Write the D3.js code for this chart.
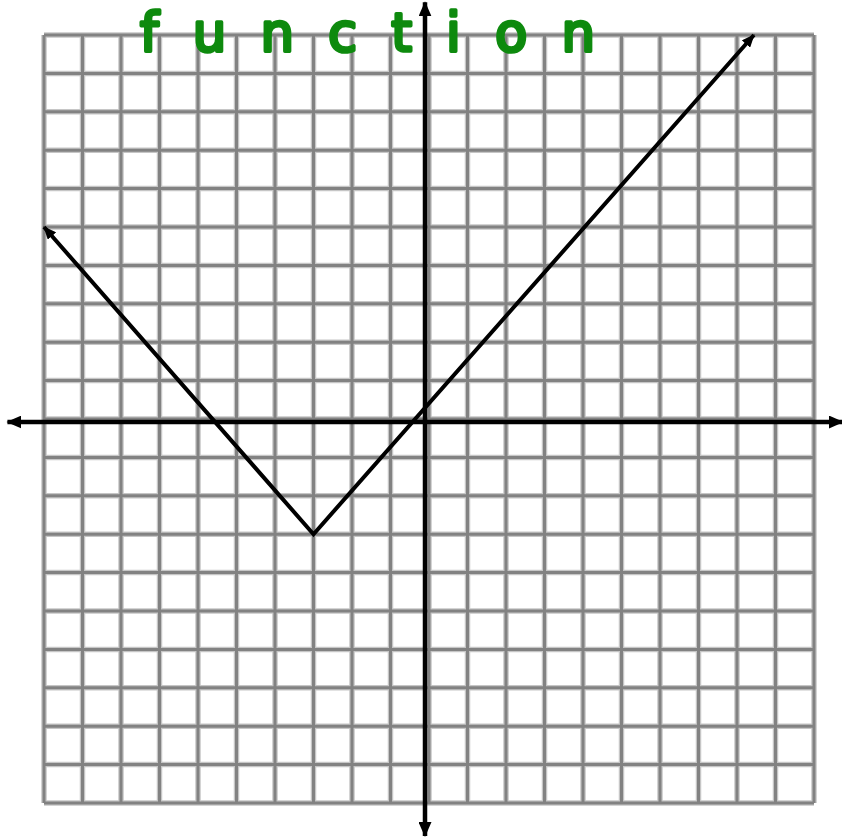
<!DOCTYPE html>
<html>
<head>
<meta charset="utf-8">
<script src="https://cdn.jsdelivr.net/npm/d3@7/dist/d3.min.js"></script>
<style>
  html, body { margin: 0; padding: 0; background: #fff; }
  svg { display: block; }
</style>
</head>
<body>
<svg id="chart" width="842" height="839"></svg>
<script>
// Grid lines, one per unit from -10 to 10
const gridValues = [-10, -9, -8, -7, -6, -5, -4, -3, -2, -1, 0, 1, 2, 3, 4, 5, 6, 7, 8, 9, 10];
// Axis extents (data units), drawn past the grid with arrowheads
const xAxisExtent = [-10.95, 10.75];
const yAxisExtent = [-10.86, 10.85];
// The V-shaped graph: left arrow end, vertex, right arrow end
const curveX = [-10, -3, 8.44];
const curveY = [5, -3, 10];
// Handwritten title
const titleText = "function";

const svg = d3.select("#chart");
const x = d3.scaleLinear().domain([-10, 10]).range([44, 814]);
const y = d3.scaleLinear().domain([-10, 10]).range([803, 35]);

const defs = svg.append("defs");
function arrowMarker(id, len, wid) {
  defs.append("marker")
    .attr("id", id)
    .attr("viewBox", `0 ${-wid / 2} ${len} ${wid}`)
    .attr("refX", len - 1).attr("refY", 0)
    .attr("markerUnits", "userSpaceOnUse")
    .attr("markerWidth", len).attr("markerHeight", wid)
    .attr("orient", "auto-start-reverse")
    .append("path")
    .attr("d", `M0,${-wid / 2}L${len},0L0,${wid / 2}Z`)
    .attr("fill", "#000");
}
arrowMarker("axisArrow", 15, 13);
arrowMarker("curveArrow", 13, 11);

// Grid: soft grey halo underneath, darker core on top
const grid = svg.append("g");
[["#c6c6c6", 5.5], ["#828282", 3]].forEach(([col, w]) => {
  const g = grid.append("g").attr("stroke", col).attr("stroke-width", w).attr("fill", "none");
  g.selectAll("line.v").data(gridValues).join("line").attr("class", "v")
    .attr("x1", d => x(d)).attr("x2", d => x(d))
    .attr("y1", y(10)).attr("y2", y(-10));
  g.selectAll("line.h").data(gridValues).join("line").attr("class", "h")
    .attr("y1", d => y(d)).attr("y2", d => y(d))
    .attr("x1", x(-10)).attr("x2", x(10));
});

// Axes, drawn slightly off the centre grid lines
const axisDx = -4, axisDy = 3;
svg.append("line")
  .attr("x1", x(xAxisExtent[0])).attr("x2", x(xAxisExtent[1]))
  .attr("y1", y(0) + axisDy).attr("y2", y(0) + axisDy)
  .attr("stroke", "#000").attr("stroke-width", 4.5)
  .attr("marker-start", "url(#axisArrow)").attr("marker-end", "url(#axisArrow)");
svg.append("line")
  .attr("x1", x(0) + axisDx).attr("x2", x(0) + axisDx)
  .attr("y1", y(yAxisExtent[1])).attr("y2", y(yAxisExtent[0]))
  .attr("stroke", "#000").attr("stroke-width", 4.5)
  .attr("marker-start", "url(#axisArrow)").attr("marker-end", "url(#axisArrow)");

// The graph
const pts = curveX.map((d, i) => [d, curveY[i]]);
svg.append("path")
  .datum(pts)
  .attr("d", d3.line().x(d => x(d[0])).y(d => y(d[1])))
  .attr("fill", "none").attr("stroke", "#000").attr("stroke-width", 4)
  .attr("stroke-linejoin", "miter")
  .attr("marker-start", "url(#curveArrow)").attr("marker-end", "url(#curveArrow)");

// Title, written in green across the top
svg.append("text")
  .attr("x", 140).attr("y", 51)
  .attr("textLength", 455).attr("lengthAdjust", "spacing")
  .attr("font-family", "DejaVu Sans, sans-serif")
  .attr("font-size", 53)
  .attr("fill", "#0e8a0e")
  .attr("stroke", "#0e8a0e").attr("stroke-width", 3.5)
  .attr("stroke-linejoin", "round")
  .text(titleText);
</script>
</body>
</html>
